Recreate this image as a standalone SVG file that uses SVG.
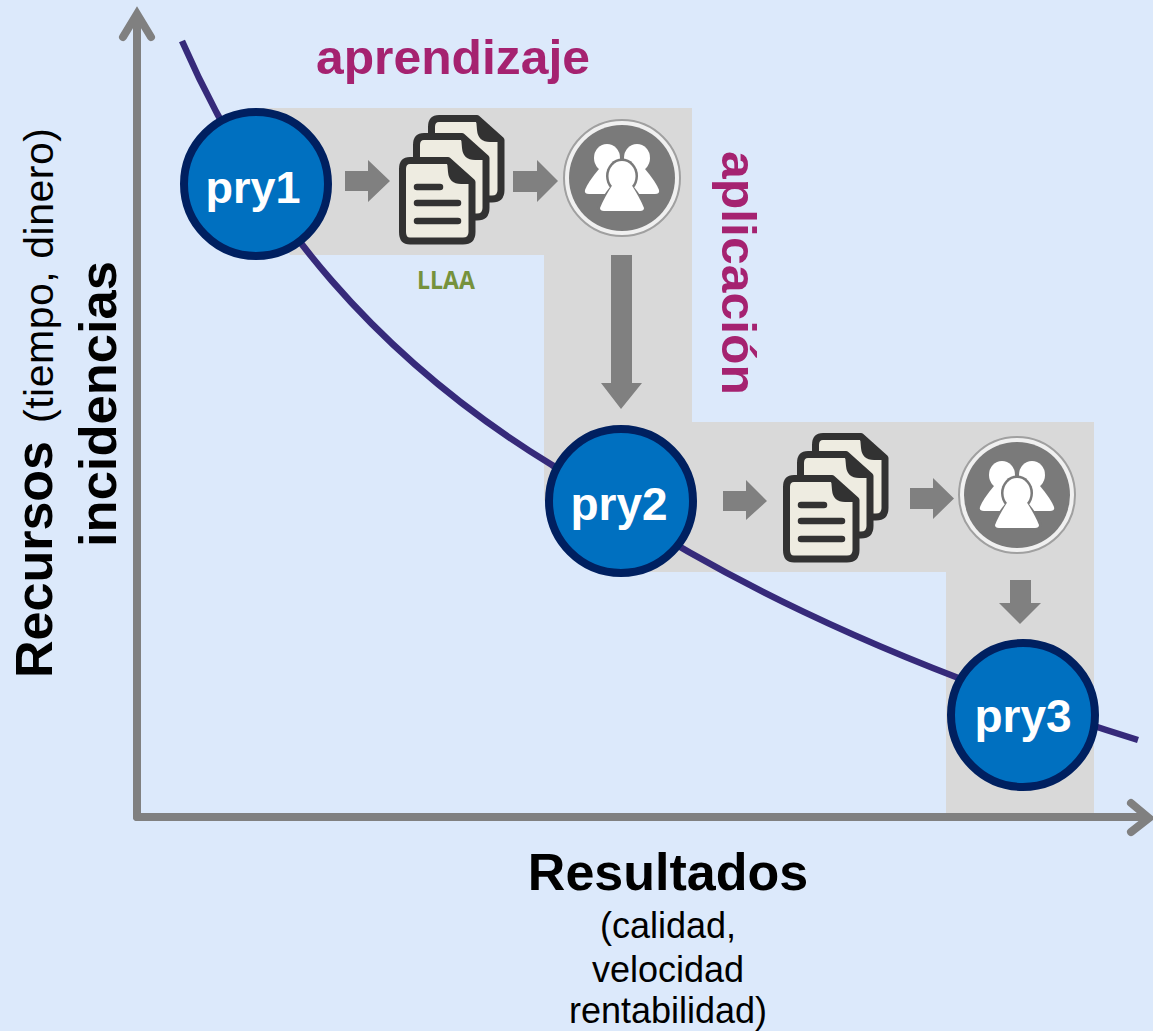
<svg xmlns="http://www.w3.org/2000/svg" width="1153" height="1031" viewBox="0 0 1153 1031">
<style>
text{font-family:"Liberation Sans",Arial,sans-serif}
.b{font-weight:700}
.pry{font-weight:700;font-size:46px;fill:#fff;text-anchor:middle}
.mag{font-weight:700;font-size:48px;fill:#a52270}
.node{fill:#0070c0;stroke:#002060;stroke-width:8}
.ar{fill:#808080}
.axis{fill:none;stroke:#808080;stroke-width:8;stroke-linecap:round;stroke-linejoin:miter}
.sub{font-size:36px;fill:#000;text-anchor:middle}
.pg{fill:#eeece1;stroke:#333;stroke-width:7;stroke-linejoin:round}
.ln{stroke:#333;stroke-width:6.500;stroke-linecap:round;fill:none}
</style>
<defs>
<filter id="soft" x="-5%" y="-5%" width="110%" height="110%"><feGaussianBlur stdDeviation="0.700"/></filter>
<g id="page"><path class="pg" d="M11 3.500H49L73 25V75Q73 84 64 84H11Q3.500 84 3.500 75V12Q3.500 3.500 11 3.500Z"/><path d="M48 3.500L73 25V27H62Q50 27 49 15Z" fill="#333"/></g>
<g id="docs" filter="url(#soft)">
<use href="#page" x="29" y="-42"/>
<use href="#page" x="14" y="-24"/>
<use href="#page"/>
<path class="ln" d="M18 30H41M18 46H59M18 64H59"/>
</g>
<g id="people" filter="url(#soft)">
<circle r="58" fill="#f0f0f0" stroke="#a0a0a0" stroke-width="2"/>
<circle r="53" fill="#7a7a7a"/>
<g fill="#fff">
<ellipse cx="-15" cy="-20" rx="13" ry="14"/>
<ellipse cx="15" cy="-20" rx="13" ry="14"/>
<path d="M-23-9Q-34 4-37 12Q-38 16-33 16H33Q38 16 37 12Q34 4 23-9Z"/>
</g>
<g fill="#7a7a7a">
<path d="M-12 9Q-21 20-25 30Q-25 35-19 35H19Q25 35 25 30Q21 20 12 9Z"/>
<ellipse cx="0" cy="-2" rx="16" ry="17.500"/>
</g>
<path d="M-9 6Q-18 20-22 30Q-22 33-18 33H18Q22 33 22 30Q18 20 9 6Z" fill="#fff"/>
<ellipse cx="0" cy="-2" rx="13.500" ry="15" fill="#fff"/>
</g>
</defs>
<rect width="1153" height="1031" fill="#dce9fb"/>
<path d="M256 108H692V422H1094V813H946V572H620L544 500V255H290L256 184Z" fill="#d9d9d9"/>
<g id="connectors">
<path d="M182 41C260 220 380 360 552 465C700 570 880 660 1138 740" fill="none" stroke="#362a7a" stroke-width="6.500"/>
<path class="axis" d="M137 817V16M123 37L137 14L151 37"/>
<path class="axis" d="M137 817H1145M1131 803L1149 818L1131 832"/>
<path class="ar" d="M345 171H368V160L390 181L368 202V191H345Z"/>
<path class="ar" d="M513 171H537V160L558 181L537 202V192H513Z"/>
<path class="ar" d="M611 255H632V383H642L621 409L601 383H611Z"/>
<path class="ar" d="M723 491H746V480L767 501L746 520V511H723Z"/>
<path class="ar" d="M910 488H933V478L954 498.500L933 519V509H910Z"/>
<path class="ar" d="M1010 580H1031V603H1041L1020 624L999 603H1010Z"/>
</g>
<g id="docs1"><use href="#docs" x="399" y="157"/></g>
<g id="people1"><use href="#people" x="622" y="178"/></g>
<g id="docs2"><use href="#docs" x="783" y="475"/></g>
<g id="people2"><use href="#people" x="1017" y="495"/></g>
<g id="pry1"><circle class="node" cx="256" cy="184" r="72"/><text class="pry" x="253" y="203" style="font-size:45px">pry1</text></g>
<g id="pry2"><circle class="node" cx="621" cy="501" r="72"/><text class="pry" x="619" y="520">pry2</text></g>
<g id="pry3"><circle class="node" cx="1023" cy="715" r="72"/><text class="pry" x="1023" y="732">pry3</text></g>
<text class="mag" x="316" y="74" textLength="274" lengthAdjust="spacingAndGlyphs">aprendizaje</text>
<text class="mag" transform="translate(722 151) rotate(90)" textLength="244" lengthAdjust="spacingAndGlyphs">aplicación</text>
<text x="417" y="289" font-size="25" font-weight="700" fill="#76923c" textLength="58" lengthAdjust="spacingAndGlyphs" style='font-family:"Open Sans",sans-serif'>LLAA</text>
<text class="b" transform="translate(52 678) rotate(-90)" font-size="52">Recursos</text>
<text transform="translate(53 423) rotate(-90)" font-size="41" textLength="295">(tiempo, dinero)</text>
<text class="b" transform="translate(116 547) rotate(-90)" font-size="52.500">incidencias</text>
<text class="b" x="668" y="890" font-size="52" text-anchor="middle">Resultados</text>
<text class="sub" x="668" y="938">(calidad,</text>
<text class="sub" x="668" y="982">velocidad</text>
<text class="sub" x="668" y="1023">rentabilidad)</text>
</svg>
